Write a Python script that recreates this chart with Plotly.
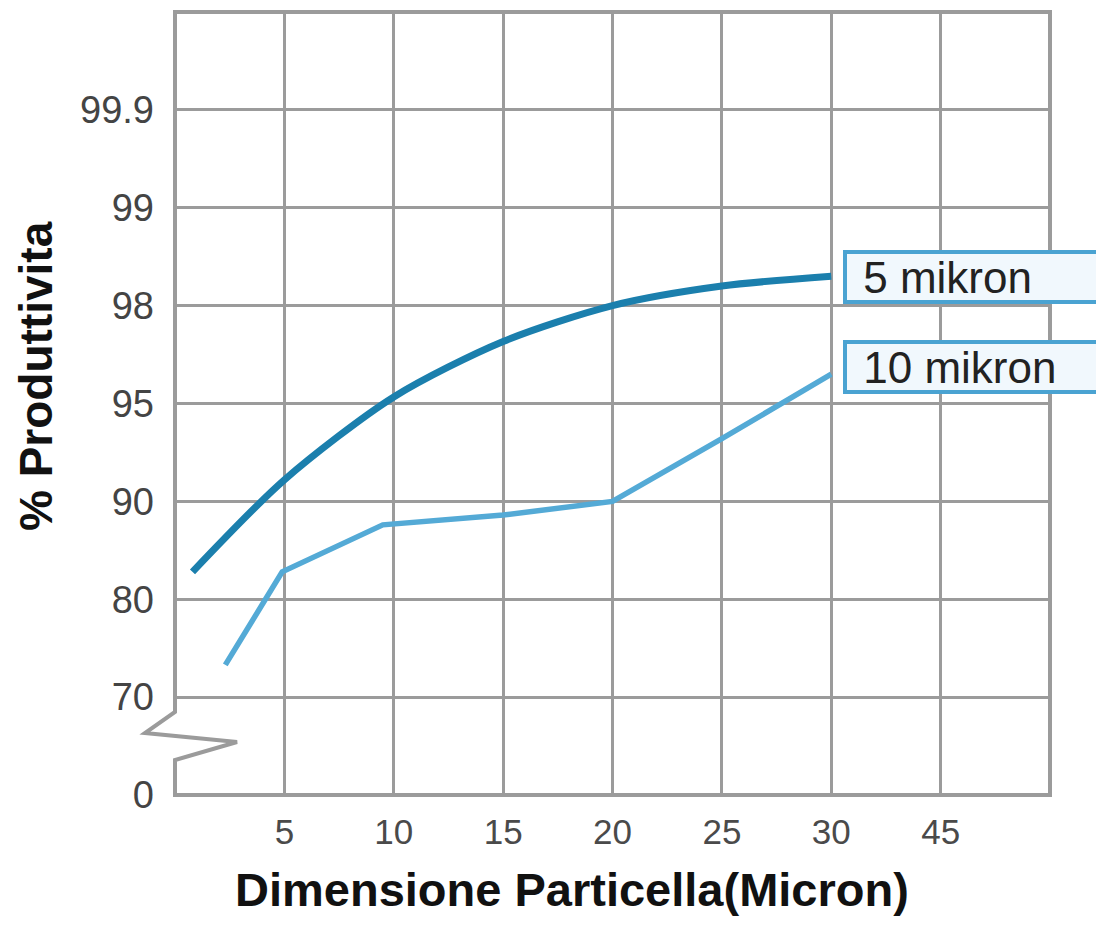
import numpy as np
import plotly.graph_objects as go

# ---- data (real units) ----
X_TICK_LABELS = ["5", "10", "15", "20", "25", "30", "45"]
X_TICK_VALUES = [5, 10, 15, 20, 25, 30, 45]
Y_TICK_LABELS = ["0", "70", "80", "90", "95", "98", "99", "99.9"]
Y_TICK_VALUES = [0, 70, 80, 90, 95, 98, 99, 99.9]

micron_5 = [0.8, 5, 10, 15, 20, 25, 30]
prod_5 = [82.8, 91.1, 95.2, 96.9, 98.0, 98.2, 98.3]

micron_10 = [2.3, 4.9, 9.5, 15, 20, 25, 30]
prod_10 = [73.3, 82.8, 87.6, 88.6, 90.0, 93.2, 95.9]

SERIES_NAMES = ["5 mikron", "10 mikron"]

# ---- non-linear axis scales (grid position of each tick) ----
x_grid_vals = [0] + X_TICK_VALUES
x_grid_pos = list(range(len(x_grid_vals)))
y_grid_pos = list(range(len(Y_TICK_VALUES)))


def xs(v):
    return np.interp(v, x_grid_vals, x_grid_pos)


def ys(v):
    return np.interp(v, Y_TICK_VALUES, y_grid_pos)


C5 = "#1b7fad"
C10 = "#54aad6"
GRID = "#9b9b9b"

fig = go.Figure()
fig.add_trace(go.Scatter(x=xs(micron_5), y=ys(prod_5), mode="lines",
                         line=dict(color=C5, width=7, shape="spline", smoothing=0.8),
                         name=SERIES_NAMES[0], hoverinfo="skip"))
fig.add_trace(go.Scatter(x=xs(micron_10), y=ys(prod_10), mode="lines",
                         line=dict(color=C10, width=5.5),
                         name=SERIES_NAMES[1], hoverinfo="skip"))

# frame with axis break on the left
fig.add_shape(type="path", xref="paper", yref="paper",
              path="M 0,1 L 0,0.106 L -0.0343,0.0792 L 0.0709,0.0677 L 0,0.0447 L 0,0 L 1,0 L 1,1 Z",
              line=dict(color=GRID, width=4), fillcolor="rgba(0,0,0,0)", layer="above")

# series labels
for name, xv, yv, ysh in [(SERIES_NAMES[0], micron_5[-1], prod_5[-1], -1),
                          (SERIES_NAMES[1], micron_10[-1], prod_10[-1], 7)]:
    fig.add_annotation(x=float(xs(xv)), y=float(ys(yv)), xref="x", yref="y",
                       xanchor="left", yanchor="middle", showarrow=False,
                       width=285, height=38, align="left", borderpad=4,
                       text="\u00a0" + name, xshift=12, yshift=ysh,
                       font=dict(family="Liberation Sans, Arial, sans-serif", size=44, color="#222"),
                       bgcolor="#f1f8fd", bordercolor="#4aa3d2", borderwidth=4)

# axis titles
fig.add_annotation(text="<b>Dimensione Particella(Micron)</b>", xref="paper", yref="paper",
                   x=(572 - 175) / 875, y=-(889 - 795) / 783, showarrow=False,
                   xanchor="center", yanchor="middle",
                   font=dict(family="Liberation Sans, Arial, sans-serif", size=47, color="#111"))
fig.add_annotation(text="<b>% Produttivita</b>", xref="paper", yref="paper",
                   x=-(175 - 36) / 875, y=(795 - 376) / 783, showarrow=False, textangle=-90,
                   xanchor="center", yanchor="middle",
                   font=dict(family="Liberation Sans, Arial, sans-serif", size=46, color="#111"))

fig.update_layout(
    width=1104, height=925,
    margin=dict(l=167, r=62, t=4, b=138),
    paper_bgcolor="white", plot_bgcolor="white",
    showlegend=False,
    xaxis=dict(range=[0, 8], tickvals=x_grid_pos[1:], ticktext=X_TICK_LABELS,
               showgrid=True, gridcolor=GRID, gridwidth=3, zeroline=False,
               showline=False, ticks="", ticklabelstandoff=13,
               tickfont=dict(family="Liberation Sans, Arial, sans-serif",
                             size=35, color="#4a4a4a")),
    yaxis=dict(range=[0, 8], tickvals=y_grid_pos, ticktext=Y_TICK_LABELS,
               showgrid=True, gridcolor=GRID, gridwidth=3, zeroline=False,
               showline=False, ticks="", ticklabelstandoff=20,
               tickfont=dict(family="Liberation Sans, Arial, sans-serif", size=38, color="#444")),
)

fig.write_html("out.html")
